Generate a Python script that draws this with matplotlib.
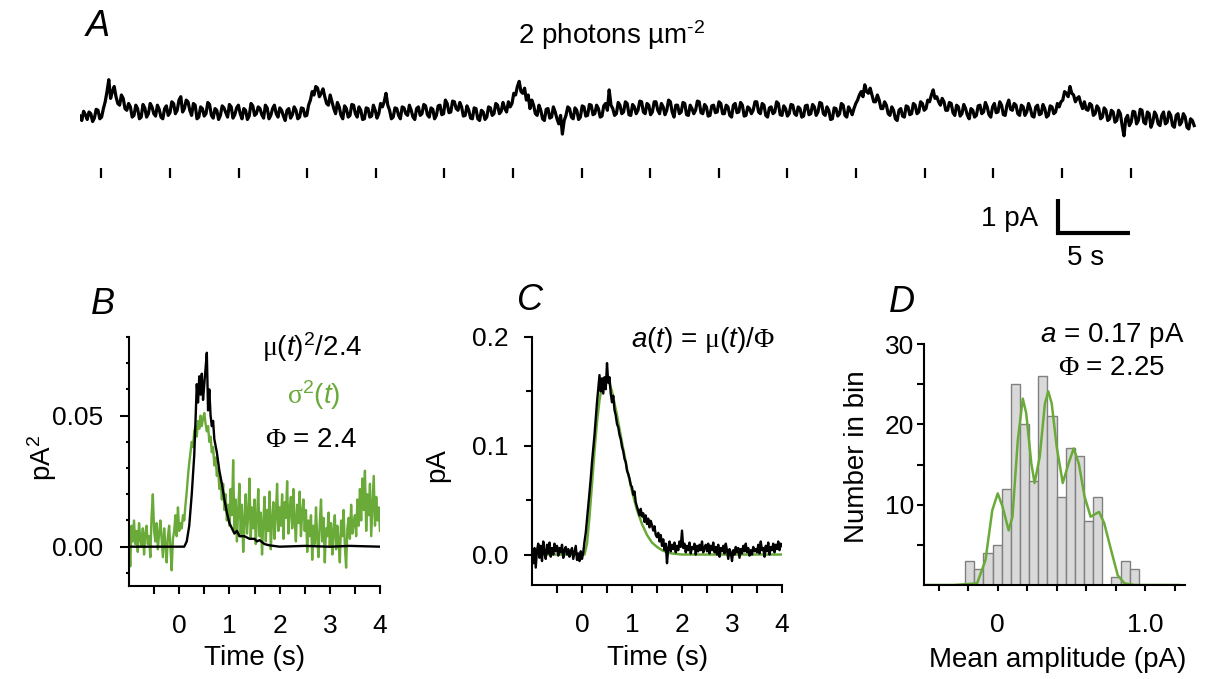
import matplotlib

matplotlib.use("Agg")
import matplotlib.pyplot as plt
import numpy as np

plt.rcParams["font.family"] = ["Liberation Sans", "DejaVu Sans"]
plt.rcParams["mathtext.fontset"] = "custom"
plt.rcParams["mathtext.rm"] = "Liberation Sans"
plt.rcParams["mathtext.it"] = "Liberation Sans:italic"
plt.rcParams["mathtext.sf"] = "Liberation Serif"

GREEN = "#6aaa38"

# --- Panel A: continuous recording (pA, sampled every 0.125 s) ---
trace_dt = 0.125
trace_pA = [
    -0.12, -0.25, 0.02, -0.08, -0.22, 0.0, -0.05, -0.28, -0.18, 0.08, 0.05, -0.2, -0.15, 0.1, 0.3, 0.6, 0.95, 0.4, 0.6, 0.75,
    0.45, 0.25, 0.2, 0.5, 0.4, 0.1, 0.05, 0.25, 0.15, -0.15, -0.1, 0.2, 0.1, -0.2, -0.15, 0.22, 0.12, -0.15, -0.05, 0.25,
    0.15, -0.05, -0.12, 0.2, 0.08, -0.15, -0.2, 0.1, 0.18, -0.1, -0.02, 0.3, 0.25, -0.05, 0.05, 0.35, 0.45, 0.0, 0.1, 0.35,
    0.3, 0.05, -0.1, 0.25, 0.2, -0.2, -0.15, 0.15, 0.1, -0.12, -0.05, 0.28, 0.22, -0.1, -0.18, 0.1, 0.05, -0.22, -0.1, 0.18,
    0.12, -0.02, -0.15, 0.22, 0.15, -0.18, -0.08, 0.12, 0.2, -0.05, -0.2, 0.1, 0.05, -0.22, -0.12, 0.25, 0.18, -0.1, -0.05, 0.15,
    0.1, -0.08, -0.18, 0.2, 0.12, -0.2, -0.1, 0.1, 0.2, -0.05, -0.15, 0.12, 0.05, -0.12, -0.25, 0.05, 0.1, -0.18, -0.08, 0.15,
    0.05, -0.2, -0.15, 0.12, 0.1, -0.12, -0.1, 0.2, 0.35, 0.6, 0.5, 0.75, 0.7, 0.45, 0.55, 0.68, 0.45, 0.25, 0.2, 0.5,
    0.3, 0.1, -0.05, 0.28, 0.15, -0.1, -0.2, 0.18, 0.1, -0.15, -0.1, 0.22, 0.2, -0.05, -0.15, 0.15, 0.05, -0.22, -0.2, 0.12,
    0.1, -0.15, -0.12, 0.2, 0.05, -0.18, -0.05, 0.25, 0.15, 0.3, 0.55, 0.2, 0.05, -0.2, -0.15, 0.12, 0.1, -0.1, -0.2, 0.15,
    0.12, -0.05, -0.1, 0.2, 0.05, -0.15, -0.22, 0.1, 0.15, -0.1, -0.05, 0.22, 0.18, -0.08, -0.15, 0.12, 0.08, -0.2, -0.1, 0.18,
    0.2, -0.08, -0.05, 0.35, 0.25, -0.02, 0.0, 0.32, 0.3, 0.1, 0.05, 0.28, 0.15, -0.12, -0.1, 0.18, 0.05, -0.18, -0.2, 0.12,
    0.1, -0.2, -0.25, 0.05, 0.0, -0.22, -0.15, 0.15, 0.12, -0.1, -0.05, 0.25, 0.2, -0.05, 0.02, 0.28, 0.1, 0.0, 0.3, 0.15,
    0.25, 0.55, 0.5, 0.75, 0.9, 0.6, 0.55, 0.7, 0.35, 0.5, 0.1, 0.35, 0.2, -0.05, -0.1, 0.2, 0.05, -0.2, -0.25, 0.08,
    0.1, -0.18, -0.15, 0.15, 0.0, -0.2, -0.35, -0.1, -0.65, -0.25, -0.1, 0.15, 0.1, -0.15, -0.2, 0.12, 0.05, -0.22, -0.15, 0.18,
    0.15, -0.12, -0.1, 0.22, 0.2, -0.08, -0.05, 0.2, 0.1, -0.15, -0.12, 0.18, 0.25, 0.05, 0.65, 0.2, 0.1, -0.1, -0.05, 0.28,
    0.2, -0.05, 0.0, 0.3, 0.25, -0.08, -0.1, 0.22, 0.15, -0.05, 0.05, 0.32, 0.3, 0.0, -0.05, 0.25, 0.2, -0.08, 0.0, 0.3,
    0.3, 0.05, -0.05, 0.25, 0.15, -0.08, 0.05, 0.35, 0.3, 0.0, -0.15, 0.2, 0.2, -0.05, 0.0, 0.28, 0.25, -0.08, -0.1, 0.2,
    0.1, -0.05, 0.05, 0.32, 0.3, -0.02, -0.05, 0.22, 0.15, -0.12, -0.1, 0.18, 0.2, -0.02, 0.0, 0.3, 0.25, -0.05, -0.05, 0.2,
    0.15, -0.1, -0.15, 0.2, 0.25, -0.02, 0.0, 0.28, 0.2, -0.12, -0.1, 0.15, 0.1, -0.05, 0.05, 0.3, 0.3, 0.0, -0.05, 0.25,
    0.2, -0.1, -0.15, 0.12, 0.15, -0.05, 0.0, 0.3, 0.25, -0.08, -0.1, 0.18, 0.1, -0.12, -0.05, 0.22, 0.2, -0.05, -0.1, 0.15,
    0.1, -0.15, -0.12, 0.18, 0.2, -0.08, -0.05, 0.22, 0.15, -0.1, 0.0, 0.28, 0.25, -0.05, -0.1, 0.15, 0.05, -0.22, -0.2, 0.12,
    0.1, -0.12, -0.05, 0.25, 0.2, -0.1, -0.15, 0.15, 0.05, -0.08, 0.1, 0.25, 0.35, 0.5, 0.6, 0.45, 0.8, 0.6, 0.55, 0.7,
    0.5, 0.3, 0.3, 0.5, 0.35, 0.1, 0.1, 0.3, 0.2, -0.05, -0.1, 0.15, 0.05, -0.2, -0.25, 0.05, 0.1, -0.12, -0.15, 0.18,
    0.15, -0.08, -0.05, 0.25, 0.2, -0.05, 0.0, 0.3, 0.25, 0.05, 0.1, 0.35, 0.3, 0.5, 0.65, 0.4, 0.45, 0.3, 0.2, 0.4,
    0.3, 0.05, 0.05, 0.28, 0.25, -0.02, -0.1, 0.2, 0.15, -0.12, -0.05, 0.22, 0.1, -0.1, -0.2, 0.1, 0.05, -0.15, -0.1, 0.18,
    0.2, -0.05, 0.0, 0.28, 0.15, -0.08, -0.15, 0.15, 0.25, -0.02, 0.0, 0.3, 0.2, -0.08, -0.1, 0.2, 0.35, 0.08, 0.05, 0.25,
    0.2, -0.05, -0.1, 0.2, 0.15, -0.1, 0.0, 0.25, 0.1, -0.12, -0.15, 0.15, 0.2, -0.08, -0.05, 0.22, 0.1, -0.15, -0.1, 0.18,
    0.15, -0.05, 0.0, 0.25, 0.15, 0.3, 0.35, 0.6, 0.55, 0.45, 0.75, 0.55, 0.5, 0.3, 0.4, 0.45, 0.25, 0.1, 0.3, 0.08,
    0.05, 0.25, 0.2, -0.1, -0.05, 0.18, 0.1, -0.2, -0.15, 0.12, 0.05, -0.25, -0.2, 0.05, 0.0, -0.3, -0.25, 0.05, -0.05, -0.4,
    -0.7, -0.2, -0.1, -0.4, -0.3, 0.02, 0.0, -0.35, -0.25, 0.08, 0.05, -0.3, -0.35, 0.0, -0.05, -0.45, -0.3, 0.0, -0.1, -0.35,
    -0.4, -0.1, 0.0, -0.35, -0.3, 0.0, -0.1, -0.4, -0.45, -0.1, -0.05, -0.38, -0.3, -0.05, -0.15, -0.45, -0.5, -0.2, -0.25, -0.4,
]
flash_times = [1.49, 6.25, 11.02, 15.78, 20.55, 25.31, 30.08, 34.84, 39.6,
               44.37, 49.13, 53.9, 58.66, 63.43, 68.19, 72.96]

# --- Panel B: variance and squared mean (pA^2) ---
ens_dt = 0.025
ens_t0 = -1.0
sigma2 = [
    0.004, -0.0075, 0.008, 0.002, 0.010, 0.001, 0.006, -0.002, 0.009, 0.003, 0.000, 0.007, -0.003, 0.005, 0.008, 0.001, 0.004, -0.004, 0.012, 0.020,
    0.006, 0.002, 0.009, -0.001, 0.005, 0.010, 0.003, -0.004, 0.007, 0.001, -0.006, 0.004, 0.008, 0.000, -0.009, 0.003, 0.006, 0.012, 0.004, 0.015,
    0.006, 0.009, 0.007, 0.012, 0.010, 0.016, 0.021, 0.027, 0.032, 0.036, 0.040, 0.038, 0.044, 0.046, 0.042, 0.048, 0.045, 0.050, 0.046, 0.049,
    0.051, 0.047, 0.044, 0.046, 0.040, 0.042, 0.036, 0.038, 0.031, 0.034, 0.027, 0.030, 0.022, 0.026, 0.018, 0.024, 0.014, 0.020, 0.010, 0.016,
    0.008, 0.022, 0.012, 0.033, 0.006, 0.018, 0.002, 0.014, 0.024, 0.004, 0.016, -0.002, 0.010, 0.020, 0.005, 0.012, 0.026, 0.003, 0.015, 0.007,
    0.018, 0.001, 0.011, 0.022, 0.004, 0.013, -0.003, 0.009, 0.019, 0.002, 0.014, 0.006, 0.021, -0.001, 0.010, 0.017, 0.003, 0.012, 0.024, 0.006,
    0.015, 0.008, 0.020, 0.003, 0.017, 0.011, 0.025, 0.005, 0.014, 0.019, 0.007, 0.022, 0.010, 0.002, 0.016, 0.009, 0.021, 0.004, 0.013, 0.018,
    0.006, 0.014, -0.002, 0.010, 0.004, 0.012, -0.005, 0.008, 0.001, 0.015, 0.003, -0.004, 0.009, 0.018, 0.002, 0.011, -0.006, 0.007, 0.004, 0.013,
    0.000, 0.009, -0.003, 0.006, 0.012, -0.001, 0.008, 0.002, -0.006, 0.010, 0.004, 0.014, 0.000, -0.008, 0.007, 0.011, 0.003, 0.016, 0.005, 0.009,
    0.012, 0.004, 0.018, 0.008, 0.022, 0.010, 0.026, 0.014, 0.029, 0.006, 0.020, 0.012, 0.024, 0.004, 0.016, 0.027, 0.008, 0.019, 0.010, 0.015, 0.006,
]
mu2_t = [-1.0, 0.1, 0.15, 0.2, 0.25, 0.3, 0.325, 0.35, 0.375, 0.4, 0.425, 0.45, 0.475, 0.5, 0.525, 0.55,
         0.575, 0.6, 0.625, 0.65, 0.675, 0.7, 0.75, 0.8, 0.85, 0.9, 0.95, 1.0, 1.05, 1.1, 1.15, 1.2,
         1.3, 1.4, 1.5, 1.55, 1.6, 1.7, 1.8, 2.0, 2.5, 3.0, 3.4, 4.0]
mu2 = [0.0, 0.0, 0.002, 0.008, 0.020, 0.035, 0.048, 0.062, 0.055, 0.065, 0.058, 0.066, 0.056, 0.062, 0.068, 0.074,
       0.052, 0.060, 0.050, 0.046, 0.048, 0.041, 0.036, 0.029, 0.024, 0.018, 0.013, 0.009, 0.007, 0.005, 0.006, 0.004,
       0.004, 0.003, 0.003, 0.002, 0.0025, 0.001, 0.0005, 0.0, 0.0003, 0.0, 0.0003, 0.0]

# --- Panel C: unitary response a(t) (pA) and its fit ---
a_trace = [
    0.000, -0.008, 0.006, -0.012, 0.004, 0.010, -0.003, 0.008, -0.006, 0.012, 0.002, -0.004, 0.009, 0.001, 0.011, -0.002, 0.006, 0.000, 0.010, 0.003,
    0.008, -0.001, 0.006, 0.002, 0.009, -0.003, 0.004, 0.007, 0.000, 0.005, -0.002, 0.003, 0.006, -0.004, 0.002, 0.008, -0.005, 0.001, -0.006, 0.003,
    -0.004, 0.002, 0.012, 0.020, 0.032, 0.045, 0.057, 0.070, 0.085, 0.097, 0.110, 0.125, 0.140, 0.152, 0.165, 0.150, 0.162, 0.148, 0.163, 0.152,
    0.176, 0.158, 0.163, 0.148, 0.140, 0.146, 0.133, 0.128, 0.120, 0.117, 0.110, 0.106, 0.099, 0.095, 0.088, 0.085, 0.077, 0.074, 0.070, 0.064,
    0.062, 0.055, 0.058, 0.048, 0.044, 0.040, 0.036, 0.042, 0.035, 0.038, 0.030, 0.036, 0.028, 0.033, 0.025, 0.031, 0.027, 0.022, 0.026, 0.018,
    0.016, 0.020, 0.012, 0.018, 0.008, 0.014, 0.004, 0.010, -0.008, 0.006, 0.012, 0.003, 0.009, 0.005, 0.011, 0.002, 0.008, 0.004, 0.012, 0.007,
    0.022, 0.006, 0.010, 0.002, 0.008, 0.004, 0.011, 0.001, 0.007, 0.005, 0.010, 0.000, 0.008, 0.003, 0.009, 0.004, 0.012, 0.002, 0.006, 0.009,
    0.003, 0.010, 0.001, 0.008, 0.004, 0.011, 0.002, 0.007, 0.000, 0.009, -0.002, 0.006, 0.003, 0.008, 0.001, 0.010, 0.004, -0.004, 0.005, 0.002,
    -0.006, 0.004, 0.000, 0.007, 0.002, 0.006, -0.003, 0.005, 0.001, 0.008, 0.003, 0.010, 0.002, 0.006, -0.001, 0.004, 0.000, 0.007, 0.003, 0.005,
    0.002, 0.009, 0.001, 0.012, 0.004, 0.006, -0.002, 0.008, 0.003, 0.011, 0.000, 0.007, 0.004, 0.010, 0.002, 0.009, 0.005, 0.012, 0.004, 0.010, 0.008,
]
fit_t = [-1.0, 0.05, 0.1, 0.15, 0.2, 0.25, 0.3, 0.35, 0.4, 0.45, 0.5, 0.55, 0.6, 0.7, 0.8, 0.9,
         1.0, 1.1, 1.2, 1.3, 1.4, 1.5, 1.6, 1.7, 1.8, 2.0, 4.0]
fit_a = [0.0, 0.0, 0.010, 0.035, 0.065, 0.095, 0.122, 0.142, 0.155, 0.160, 0.160, 0.157, 0.150, 0.128, 0.103, 0.079,
         0.058, 0.041, 0.028, 0.018, 0.011, 0.007, 0.004, 0.002, 0.001, 0.0, 0.0]

# --- Panel D: histogram of mean amplitudes and fitted distribution ---
bin_left = -0.2207
bin_width = 0.062
counts = [3, 2, 4, 5, 12, 25, 20, 13, 26, 21, 11, 17, 16, 8, 11, 0, 1, 3, 2]
model_x = [-0.52, -0.3, -0.14, -0.083, -0.037, 0.0, 0.032, 0.074, 0.1, 0.136, 0.17, 0.193, 0.228, 0.25,
           0.285, 0.32, 0.343, 0.366, 0.4, 0.441, 0.48, 0.515, 0.55, 0.589, 0.63, 0.687, 0.722, 0.768,
           0.814, 0.86, 0.93, 1.23]
model_y = [0.0, 0.0, 0.2, 3.1, 9.3, 11.4, 9.8, 6.8, 8.5, 18.0, 23.2, 21.4, 15.1, 12.7,
           16.0, 22.6, 24.1, 22.6, 17.2, 12.7, 15.1, 17.0, 15.1, 11.0, 8.5, 9.1, 7.7, 4.4,
           1.2, 0.2, 0.0, 0.0]

W, H = 1206, 679
fig = plt.figure(figsize=(W / 100, H / 100), dpi=100)


def box(x0, y0, x1, y1):
    return fig.add_axes([x0 / W, 1 - y1 / H, (x1 - x0) / W, (y1 - y0) / H])


def ftext(x, y, s, **kw):
    kw.setdefault("ha", "center")
    kw.setdefault("va", "center")
    kw.setdefault("fontsize", 20)
    fig.text(x / W, 1 - y / H, s, **kw)


def style(ax):
    for s in ("top", "right"):
        ax.spines[s].set_visible(False)
    for s in ("left", "bottom"):
        ax.spines[s].set_linewidth(1.5)
    ax.tick_params(which="both", direction="out", width=1.5, labelsize=19)


# Panel A
axA = box(80, 60, 1200, 270)
axA.set_xlim(0, 77.78)
axA.set_ylim(-4.647, 1.529)
axA.axis("off")
tA = np.arange(len(trace_pA)) * trace_dt
axA.plot(tA, trace_pA, color="black", lw=2.3)
axA.vlines(flash_times, -1.94, -1.65, color="black", lw=1.6)
sb_t, sb_y = 67.92, -3.56
axA.plot([sb_t, sb_t, sb_t + 5], [sb_y + 1, sb_y, sb_y], color="black", lw=3,
         solid_joinstyle="miter", solid_capstyle="butt")
axA.text(sb_t - 1.4, sb_y + 0.41, "1 pA", ha="right", va="center", fontsize=20)
axA.text(sb_t + 1.9, sb_y - 0.73, "5 s", ha="center", va="center", fontsize=20)

# Panel B
axB = box(129, 337, 380, 586)
style(axB)
t_ens = ens_t0 + np.arange(len(sigma2)) * ens_dt
axB.plot(t_ens, sigma2, color=GREEN, lw=1.7)
axB.plot(mu2_t, mu2, color="black", lw=1.7)
axB.set_xlim(-1, 4)
axB.set_ylim(-0.015, 0.08)
axB.set_xticks([0, 1, 2, 3, 4], ["0", "1", "2", "3", "4"])
axB.set_xticks([-0.5, 0.5, 1.5, 2.5, 3.5], minor=True)
axB.set_yticks([0, 0.05], ["0.00", "0.05"])
axB.set_yticks([-0.01, 0.01, 0.02, 0.03, 0.04, 0.06, 0.07, 0.08], minor=True)
axB.tick_params(axis="x", which="both", length=6, pad=14)
axB.tick_params(axis="y", which="major", length=6.5, pad=12)
axB.tick_params(axis="y", which="minor", length=2.5)

# Panel C
axC = box(532, 337, 782, 585)
style(axC)
axC.plot(fit_t, fit_a, color=GREEN, lw=1.8)
axC.plot(t_ens, a_trace, color="black", lw=1.7)
axC.set_xlim(-1, 4)
axC.set_ylim(-0.028, 0.2)
axC.set_xticks([0, 1, 2, 3, 4], ["0", "1", "2", "3", "4"])
axC.set_xticks([-0.5, 0.5, 1.5, 2.5, 3.5], minor=True)
axC.set_yticks([0, 0.1, 0.2], ["0.0", "0.1", "0.2"])
axC.set_yticks([0.05, 0.15], minor=True)
axC.tick_params(axis="x", which="both", length=6, pad=14)
axC.tick_params(axis="y", which="major", length=6, pad=11)
axC.tick_params(axis="y", which="minor", length=4)

# Panel D
axD = box(924, 344, 1185, 585)
style(axD)
edges = bin_left + np.arange(len(counts)) * bin_width
axD.bar(edges, counts, width=bin_width, align="edge", color="#d9d9d9",
        edgecolor="#808080", lw=1)
axD.plot(model_x, model_y, color=GREEN, lw=1.8)
axD.set_xlim(-0.5, 1.27)
axD.set_ylim(0, 30)
axD.set_xticks([0, 1.0], ["0", "1.0"])
axD.set_xticks([-0.4, -0.2, 0.2, 0.4, 0.6, 0.8, 1.2], minor=True)
axD.set_yticks([10, 20, 30], ["10", "20", "30"])
axD.set_yticks([5, 15, 25], minor=True)
axD.tick_params(axis="x", which="both", length=4, pad=16)
axD.tick_params(axis="y", which="both", length=5, pad=2)

# Labels and annotations
ftext(98, 27, "A", fontsize=26, style="italic")
ftext(103, 304, "B", fontsize=26, style="italic")
ftext(530, 301, "C", fontsize=26, style="italic")
ftext(902, 303, "D", fontsize=26, style="italic")
ftext(612, 35, r"2 photons µm$^{\text{-}2}$")

ftext(312, 347, r"$\mathsf{\mu}(\mathit{t})^{2}$/2.4")
ftext(314, 395, r"$\mathsf{\sigma}^{2}(\mathit{t})$", color=GREEN)
ftext(311, 440, r"$\mathsf{\Phi}$ = 2.4")
ftext(703, 340, r"$\mathit{a}(\mathit{t})$ = $\mathsf{\mu}(\mathit{t})/\mathsf{\Phi}$")
ftext(1112, 335, r"$\mathit{a}$ = 0.17 pA")
ftext(1111, 368, r"$\mathsf{\Phi}$ = 2.25")

ftext(42, 458, r"pA$^{2}$", rotation=90)
ftext(437, 465, "pA", rotation=90)
ftext(857, 457, "Number in bin", rotation=90)
ftext(255, 658, "Time (s)")
ftext(658, 658, "Time (s)")
ftext(1058, 660, "Mean amplitude (pA)")

fig.savefig("out.png", dpi=100)
